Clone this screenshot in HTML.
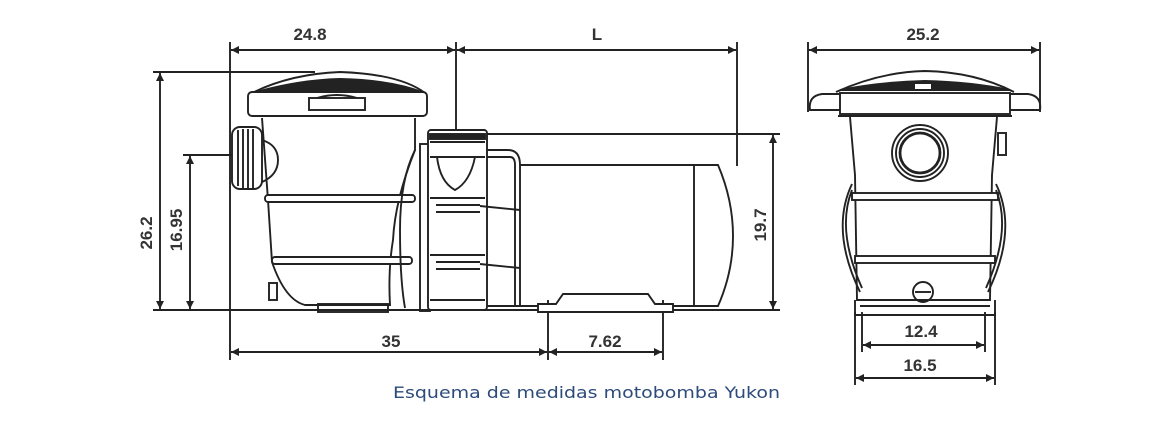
<!DOCTYPE html>
<html><head><meta charset="utf-8"><style>
html,body{margin:0;padding:0;background:#fff;}
svg{display:block;}
text{font-family:"Liberation Sans",Arial,sans-serif;font-weight:bold;fill:#333;}
</style></head><body>
<svg width="1174" height="428" viewBox="0 0 1174 428" xmlns="http://www.w3.org/2000/svg">
<defs>
<marker id="a" viewBox="0 0 10 10" refX="10" refY="5" markerWidth="10" markerHeight="8" orient="auto-start-reverse" markerUnits="userSpaceOnUse"><path d="M0,0 L10,5 L0,10 z" fill="#222"/></marker>
</defs>
<g stroke="#222" stroke-width="1.9" fill="none">
<line x1="230" y1="42" x2="230" y2="360"/>
<line x1="456" y1="42" x2="456" y2="135"/>
<line x1="737" y1="42" x2="737" y2="166"/>
<line x1="153" y1="72" x2="315" y2="72"/>
<line x1="153" y1="310" x2="545" y2="310"/>
<line x1="183" y1="155" x2="234" y2="155"/>
<line x1="487" y1="134" x2="780" y2="134"/>
<line x1="662" y1="310" x2="780" y2="310"/>
<line x1="548" y1="300" x2="548" y2="360"/>
<line x1="663" y1="300" x2="663" y2="360"/>
<line x1="231" y1="50" x2="455" y2="50" marker-start="url(#a)" marker-end="url(#a)"/>
<line x1="457" y1="50" x2="736" y2="50" marker-start="url(#a)" marker-end="url(#a)"/>
<line x1="160" y1="73" x2="160" y2="309" marker-start="url(#a)" marker-end="url(#a)"/>
<line x1="190" y1="156" x2="190" y2="309" marker-start="url(#a)" marker-end="url(#a)"/>
<line x1="773" y1="135" x2="773" y2="309" marker-start="url(#a)" marker-end="url(#a)"/>
<line x1="231" y1="352" x2="547" y2="352" marker-start="url(#a)" marker-end="url(#a)"/>
<line x1="549" y1="352" x2="662" y2="352" marker-start="url(#a)" marker-end="url(#a)"/>

<path d="M252,93 Q290,74 340,72 Q400,74 425,93"/>
<path d="M256,92 Q300,80 340,79 Q390,80 422,92 Z" fill="#222"/>
<rect x="248" y="92" width="179" height="24" rx="4" fill="#fff"/>
<rect x="309" y="98" width="56" height="12" fill="#fff"/>
<path d="M317,98 Q337,92 357,98"/>
<path d="M262,118 L268,200 L272,262 Q285,300 305,305 L390,305 Q388,270 393,240 Q395,200 415,150 L415,118"/>
<rect x="265" y="195" width="150" height="7" rx="3" fill="#fff"/>
<rect x="272" y="257" width="140" height="7" rx="3" fill="#fff"/>
<path d="M415,150 Q400,180 400,230 Q400,280 405,308"/>
<rect x="318" y="304" width="70" height="8"/>
<path d="M262,140 Q278,145 278,160 Q278,175 262,182"/>
<rect x="232" y="127" width="30" height="62" rx="8" fill="#fff"/>
<line x1="238" y1="130" x2="238" y2="186"/><line x1="243" y1="129" x2="243" y2="188"/><line x1="248" y1="129" x2="248" y2="188"/><line x1="253" y1="129" x2="253" y2="188"/>
<rect x="269" y="283" width="8" height="17"/>
<rect x="420" y="144" width="10" height="167"/>
<rect x="428" y="130" width="59" height="180" rx="3" fill="#fff"/>
<rect x="430" y="134" width="55" height="5" fill="#222"/>
<path d="M430,142 L485,142 M430,157 L485,157"/>
<path d="M437,157 Q440,182 455,190 Q470,182 475,157"/>
<line x1="430" y1="198" x2="485" y2="198"/>
<line x1="430" y1="255" x2="485" y2="255"/>
<line x1="430" y1="300" x2="485" y2="300"/>
<path d="M487,150 L508,150 Q520,150 520,165 L520,306 L487,306"/>
<path d="M487,157 L510,157 Q515,157 515,165 L515,306"/>
<line x1="480" y1="206" x2="520" y2="210"/><line x1="480" y1="264" x2="520" y2="268"/>
<line x1="436" y1="205" x2="480" y2="205"/><line x1="436" y1="212" x2="480" y2="212"/>
<line x1="436" y1="262" x2="480" y2="262"/><line x1="436" y1="269" x2="480" y2="269"/>
<path d="M520,165 L718,165 Q733,200 733,236 Q733,272 718,306 L520,306"/>
<line x1="694" y1="165" x2="694" y2="306"/>
<path d="M538,304 L538,312 L673,312 L673,304 L655,304 L648,294 L563,294 L556,304 Z" fill="#fff"/>

<line x1="808" y1="42" x2="808" y2="112"/>
<line x1="1040" y1="42" x2="1040" y2="112"/>
<line x1="809" y1="50" x2="1039" y2="50" marker-start="url(#a)" marker-end="url(#a)"/>
<path d="M836,92 Q880,72 925,71 Q975,72 1014,92"/>
<path d="M840,90 Q880,82 925,81 Q970,82 1010,90 Z" fill="#222"/>
<rect x="915" y="84" width="16" height="5" fill="#fff" stroke="none"/>
<path d="M840,94 L822,94 Q808,96 810,110 L840,110"/>
<path d="M1010,94 L1028,94 Q1042,96 1040,110 L1010,110"/>
<rect x="840" y="93" width="170" height="21" fill="#fff"/>
<line x1="838" y1="116" x2="1012" y2="116"/>
<path d="M850,117 L855,175 L857,300 L990,300 L992,175 L997,117"/>
<circle cx="920" cy="153" r="28"/><circle cx="920" cy="153" r="24"/><circle cx="920" cy="153" r="20" stroke-width="2.8"/>
<rect x="998" y="133" width="8" height="22"/>
<rect x="852" y="193" width="146" height="7" fill="#fff"/>
<rect x="855" y="256" width="140" height="7" fill="#fff"/>
<path d="M852,184 Q830,230 860,292"/><path d="M852,190 Q836,230 862,288"/>
<path d="M996,184 Q1018,230 988,292"/><path d="M996,190 Q1012,230 986,288"/>
<circle cx="923" cy="292" r="10"/><line x1="915" y1="292" x2="931" y2="292"/>
<path d="M855,300 L855,315 L995,315 L995,300"/>
<path d="M860,306 L990,306"/>
<line x1="855" y1="312" x2="855" y2="385"/><line x1="995" y1="312" x2="995" y2="385"/>
<line x1="862" y1="312" x2="862" y2="352"/><line x1="985" y1="312" x2="985" y2="352"/>
<line x1="863" y1="345" x2="984" y2="345" marker-start="url(#a)" marker-end="url(#a)"/>
<line x1="856" y1="378" x2="994" y2="378" marker-start="url(#a)" marker-end="url(#a)"/>
</g>
<g font-size="17">
<text x="310" y="40" text-anchor="middle">24.8</text>
<text x="597" y="40" text-anchor="middle">L</text>
<text x="923" y="40" text-anchor="middle">25.2</text>
<text x="391" y="347" text-anchor="middle">35</text>
<text x="605" y="347" text-anchor="middle">7.62</text>
<text x="921" y="337" text-anchor="middle">12.4</text>
<text x="920" y="371" text-anchor="middle">16.5</text>
<text transform="translate(152,233) rotate(-90)" text-anchor="middle">26.2</text>
<text transform="translate(182,230) rotate(-90)" text-anchor="middle">16.95</text>
<text transform="translate(766,225) rotate(-90)" text-anchor="middle">19.7</text>
</g>
<text x="393" y="398" font-size="16" textLength="387" lengthAdjust="spacingAndGlyphs" style="font-family:'DejaVu Sans',sans-serif;font-weight:normal;fill:#2c4a7a">Esquema de medidas motobomba Yukon</text>
</svg>
</body></html>
